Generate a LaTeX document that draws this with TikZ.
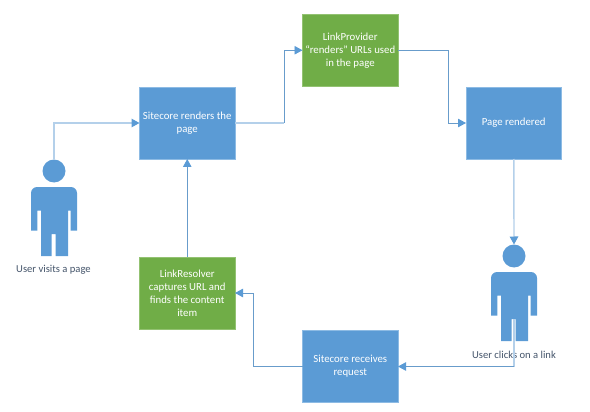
\documentclass[tikz,border=0pt]{standalone}
\usepackage{fontspec}
\setmainfont{Carlito}
\usetikzlibrary{positioning,arrows.meta}
\definecolor{bluefill}{HTML}{5B9BD5}
\definecolor{bluerim}{HTML}{8DBBE4}
\definecolor{greenfill}{HTML}{70AD47}
\definecolor{greenrim}{HTML}{93C272}
\definecolor{edge}{HTML}{689CCB}
\definecolor{edgesoft}{HTML}{B4D0EA}
\definecolor{caption}{HTML}{44546A}

\begin{document}
\begin{tikzpicture}[
  x=1pt, y=-1pt,
  font=\fontsize{10.8}{13}\selectfont,
  box/.style={draw=bluerim, line width=0.6pt, fill=bluefill, text=white, align=center, inner sep=2pt, outer sep=0pt, minimum width=95.5pt, minimum height=72pt},
  hook/.style={box, draw=greenrim, fill=greenfill},
  lbl/.style={text=caption, font=\fontsize{10.6}{13}\selectfont},
  arr/.style={-{Triangle[length=8pt, width=8.5pt, color=bluefill]}, line width=0.8pt, draw=edge},
  soft/.style={line width=1.4pt, draw=edgesoft},
  softarr/.style={arr, line width=1.4pt, draw=edgesoft},
  person/.pic={
    \node[circle, fill=bluefill, inner sep=0pt, outer sep=0pt, minimum size=23pt] (-head) at (0,0) {};
    \fill[bluefill] (-23,59.5) [rounded corners=6pt] -- (-23,16) -- (23,16) [sharp corners] -- (23,59.5) -- (16.7,59.5) -- (16.7,39.5) -- (14,39.5) -- (14,85) -- (1.7,85) -- (1.7,63) -- (-2.3,63) -- (-2.3,85) -- (-13,85) -- (-13,39.5) -- (-16.7,39.5) -- (-16.7,59.5) -- cycle;
    \coordinate (-gap) at (0,63);
  },
]
\useasboundingbox (0,0) rectangle (590,412);
\node[box] (render) at (187.25,123) {Sitecore renders the\\page};
\node[hook, right=67.5pt of render, yshift=72.75pt] (provider) {LinkProvider\\“renders” URLs used\\in the page};
\node[box, right=231pt of render] (rendered) {Page rendered};
\node[hook, below=98pt of render] (resolver) {LinkResolver\\captures URL and\\finds the content\\item};
\node[box, right=67.5pt of resolver, yshift=-73.5pt] (request) {Sitecore receives\\request};
\pic (visitor) at (54,171) {person};
\pic (clicker) at (514,256) {person};
\node[lbl] (visitorlbl) at (53.5,269.5) {User visits a page};
\node[lbl] (clickerlbl) at (514,355) {User clicks on a link};
\coordinate[right=49pt of render] (bendA);
\coordinate[right=50pt of provider] (bendB);
\coordinate[left=49.5pt of request] (bendC);
\draw[softarr] (visitor-head.north) |- (render);
\draw[soft] (render) -- (bendA);
\draw[arr] (bendA) |- (provider);
\draw[arr] (provider) -- (bendB) |- (rendered);
\draw[softarr] (rendered) -- (clicker-head.north);
\draw[soft] (clicker-gap) -- (clicker-gap |- request);
\draw[arr] (clicker-gap |- request) -- (request);
\draw[arr] (request) -- (bendC) |- (resolver);
\draw[arr] (resolver) -- (render);
\end{tikzpicture}
\end{document}
